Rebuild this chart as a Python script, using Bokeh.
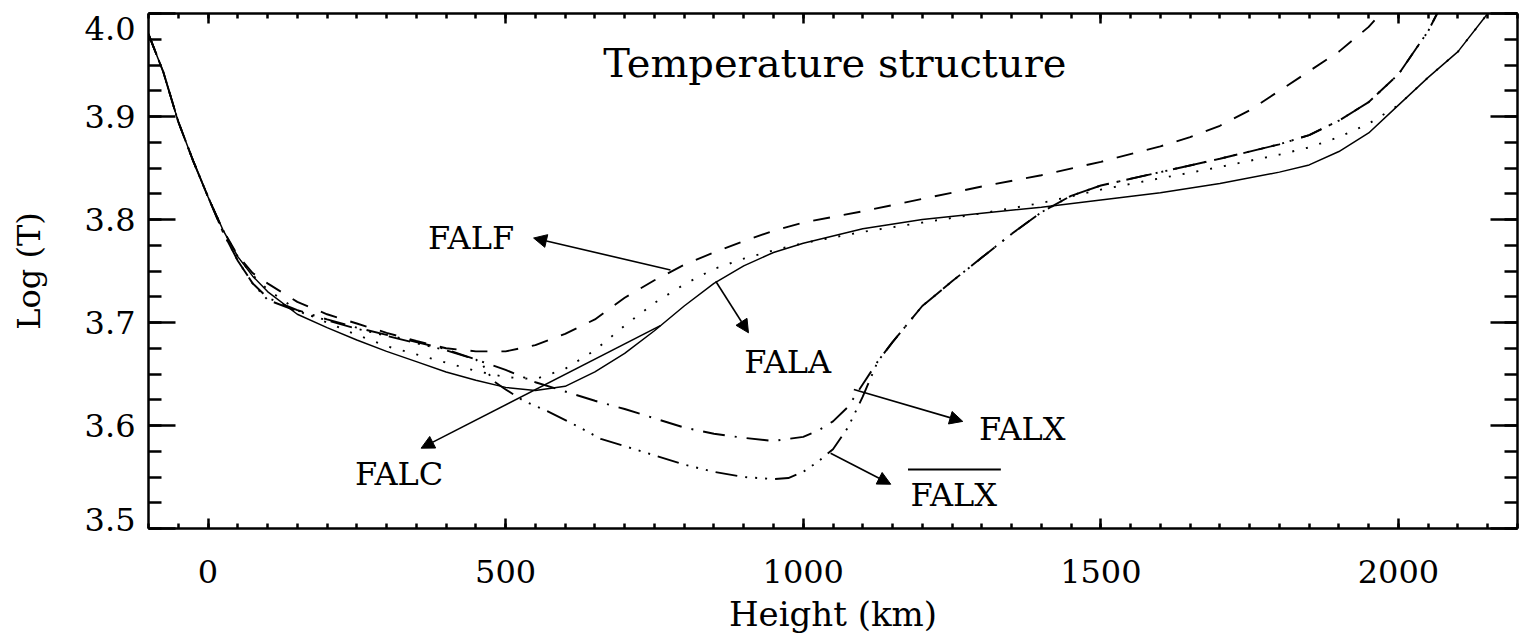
from bokeh.embed import file_html
from bokeh.models import (Arrow, CustomJSTickFormatter, FixedTicker, Label,
                          LinearAxis, NormalHead, Range1d)
from bokeh.plotting import figure
from bokeh.resources import INLINE

# ---- temperature stratification of the semi-empirical models ----
falc_h = [-100, -75, -50, -25, 0, 25, 50, 75, 100, 150, 200, 250, 300, 350, 400,
          450, 500, 550, 600, 650, 700, 750, 800, 850, 900, 950, 1000, 1100,
          1200, 1300, 1400, 1500, 1600, 1700, 1800, 1850, 1900, 1950, 2000,
          2050, 2100, 2150]
falc_logt = [3.980, 3.943, 3.895, 3.857, 3.822, 3.790, 3.764, 3.745, 3.730,
             3.708, 3.695, 3.683, 3.672, 3.662, 3.652, 3.644, 3.637, 3.634,
             3.638, 3.652, 3.670, 3.692, 3.716, 3.738, 3.755, 3.768, 3.777,
             3.791, 3.800, 3.806, 3.812, 3.819, 3.826, 3.835, 3.846, 3.853,
             3.866, 3.884, 3.911, 3.938, 3.963, 4.000]

fala_h = [-100, -75, -50, -25, 0, 25, 50, 75, 100, 150, 200, 250, 300, 350, 400,
          450, 500, 550, 600, 650, 700, 750, 800, 850, 900, 950, 1000, 1100,
          1200, 1300, 1400, 1500, 1600, 1700, 1800, 1850, 1900, 1950, 2000,
          2050, 2100, 2150]
fala_logt = [3.980, 3.943, 3.895, 3.857, 3.822, 3.790, 3.764, 3.746, 3.732,
             3.712, 3.700, 3.688, 3.677, 3.669, 3.661, 3.653, 3.647, 3.645,
             3.655, 3.673, 3.697, 3.719, 3.737, 3.752, 3.762, 3.770, 3.777,
             3.788, 3.797, 3.806, 3.816, 3.829, 3.840, 3.851, 3.863, 3.870,
             3.880, 3.893, 3.911, 3.938, 3.963, 4.000]

falf_h = [-100, -75, -50, -25, 0, 25, 50, 75, 100, 150, 200, 250, 300, 350, 400,
          450, 500, 550, 600, 650, 700, 750, 800, 850, 900, 950, 1000, 1100,
          1200, 1300, 1400, 1500, 1600, 1650, 1700, 1750, 1800, 1850, 1900,
          1950, 1970]
falf_logt = [3.980, 3.943, 3.895, 3.857, 3.822, 3.790, 3.765, 3.748, 3.738,
             3.720, 3.708, 3.699, 3.690, 3.682, 3.675, 3.672, 3.672, 3.678,
             3.689, 3.703, 3.724, 3.741, 3.756, 3.768, 3.779, 3.789, 3.797,
             3.808, 3.820, 3.832, 3.843, 3.856, 3.871, 3.880, 3.891, 3.906,
             3.925, 3.944, 3.963, 3.987, 4.000]

falx_h = [-100, -75, -50, -25, 0, 25, 50, 75, 100, 150, 200, 250, 300, 350, 400,
          450, 500, 550, 600, 650, 700, 750, 800, 850, 900, 950, 1000, 1025,
          1050, 1075, 1100, 1125, 1150, 1200, 1250, 1300, 1350, 1400, 1450,
          1500, 1600, 1700, 1800, 1850, 1900, 1950, 2000, 2050, 2065]
falx_logt = [3.980, 3.943, 3.895, 3.857, 3.822, 3.788, 3.760, 3.738, 3.724,
             3.712, 3.703, 3.695, 3.688, 3.681, 3.674, 3.664, 3.654, 3.642,
             3.633, 3.624, 3.616, 3.607, 3.598, 3.592, 3.588, 3.585, 3.589,
             3.595, 3.604, 3.618, 3.640, 3.662, 3.681, 3.716, 3.740, 3.763,
             3.786, 3.807, 3.823, 3.833, 3.846, 3.859, 3.873, 3.882, 3.896,
             3.914, 3.941, 3.983, 4.000]

falxbar_h = [-100, -75, -50, -25, 0, 25, 50, 75, 100, 150, 200, 250, 300, 350,
             400, 450, 460, 480, 500, 530, 570, 625, 660, 700, 750, 800, 850,
             900, 950, 975, 1000, 1025, 1050, 1075, 1100, 1125, 1150, 1200,
             1250, 1300, 1350, 1400, 1450, 1500, 1600, 1700, 1800, 1850, 1900,
             1950, 2000, 2050, 2065]
falxbar_logt = [3.980, 3.943, 3.895, 3.857, 3.822, 3.788, 3.760, 3.738, 3.722,
                3.711, 3.702, 3.694, 3.687, 3.680, 3.673, 3.664, 3.660, 3.643,
                3.635, 3.624, 3.614, 3.598, 3.587, 3.580, 3.571, 3.562, 3.555,
                3.550, 3.548, 3.549, 3.555, 3.565, 3.577, 3.598, 3.628, 3.662,
                3.681, 3.716, 3.740, 3.763, 3.786, 3.807, 3.823, 3.833, 3.846,
                3.859, 3.873, 3.882, 3.896, 3.914, 3.941, 3.983, 4.000]

x_major = [0, 500, 1000, 1500, 2000]
x_minor = list(range(-100, 2201, 50))
y_major = [3.5, 3.6, 3.7, 3.8, 3.9, 4.0]
y_minor = [round(3.5 + 0.025 * i, 3) for i in range(21)]

SERIF = "DejaVu Serif"
X_MIN, X_MAX = -100, 2200
Y_MIN, Y_MAX = 3.5, 4.0
FRAME_H = 515
LOGT_PER_PX = (Y_MAX - Y_MIN) / FRAME_H

p = figure(width=1530, height=643, x_range=Range1d(X_MIN, X_MAX),
           y_range=Range1d(Y_MIN, Y_MAX), output_backend="svg",
           toolbar_location=None, min_border_left=148, min_border_right=13,
           min_border_top=13, min_border_bottom=115)
p.grid.visible = False
p.outline_line_color = None
p.background_fill_color = "white"
p.border_fill_color = "white"

xt = FixedTicker(ticks=x_major, minor_ticks=x_minor)
yt = FixedTicker(ticks=y_major, minor_ticks=y_minor)

xb = p.xaxis[0]
yl = p.yaxis[0]
xtop = LinearAxis()
yr = LinearAxis()
p.add_layout(xtop, "above")
p.add_layout(yr, "right")

# y tick labels: the end values sit slightly inside the frame limits
y_label_pos = [Y_MIN + 9 * LOGT_PER_PX] + y_major[1:-1] + [Y_MAX - 15 * LOGT_PER_PX]
ylab_axis = LinearAxis(
    ticker=FixedTicker(ticks=y_label_pos, minor_ticks=[]),
    formatter=CustomJSTickFormatter(code="return (Math.round(tick * 10) / 10).toFixed(1)"),
)
p.add_layout(ylab_axis, "left")

for ax in (xb, xtop):
    ax.ticker = xt
    ax.major_tick_in = 10
    ax.major_tick_out = 0
    ax.minor_tick_in = 5
    ax.minor_tick_out = 0
for ax in (yl, yr):
    ax.ticker = yt
    ax.major_tick_in = 27
    ax.major_tick_out = 0
    ax.minor_tick_in = 13
    ax.minor_tick_out = 0
for ax in (xb, xtop, yl, yr):
    ax.axis_line_width = 2.5
    ax.major_tick_line_width = 2.5
    ax.minor_tick_line_width = 2.5
    ax.axis_line_color = "black"
    ax.major_tick_line_color = "black"
    ax.minor_tick_line_color = "black"
for ax in (xb, xtop, yl, yr, ylab_axis):
    ax.major_label_text_font = SERIF
    ax.major_label_text_color = "black"
    ax.axis_label_text_font = SERIF
    ax.axis_label_text_font_style = "normal"
    ax.axis_label_text_color = "black"

# tick-only axes
xtop.major_label_overrides = {t: "" for t in x_major}
yr.major_label_overrides = {t: "" for t in y_major}
yl.major_label_overrides = {t: "" for t in y_major}
for ax in (xtop, yr, yl):
    ax.major_label_text_font_size = "1px"
    ax.major_label_standoff = 0
    ax.axis_label_standoff = 0

# label-only axis on the left
ylab_axis.axis_line_color = None
ylab_axis.major_tick_line_color = None
ylab_axis.minor_tick_line_color = None
ylab_axis.major_tick_in = 0
ylab_axis.major_tick_out = 0
ylab_axis.minor_tick_in = 0
ylab_axis.minor_tick_out = 0
ylab_axis.major_label_text_font_size = "32px"
ylab_axis.major_label_standoff = 13
ylab_axis.major_label_orientation = "horizontal"
ylab_axis.axis_label = "Log (T)"
ylab_axis.axis_label_text_font_size = "32px"
ylab_axis.axis_label_standoff = 34

xb.major_label_text_font_size = "32px"
xb.major_label_standoff = 31
xb.axis_label = "Height (km)"
xb.axis_label_text_font_size = "34px"
xb.axis_label_standoff = 8

# curves
p.line(falc_h, falc_logt, line_color="black", line_width=1.5)
p.line(fala_h, fala_logt, line_color="black", line_width=1.9,
       line_dash="2 12")
p.line(falf_h, falf_logt, line_color="black", line_width=1.9,
       line_dash="17 14")
p.line(falx_h, falx_logt, line_color="black", line_width=1.9,
       line_dash="22 10 2 10")
p.line(falxbar_h, falxbar_logt, line_color="black", line_width=1.9,
       line_dash="22 8 2 8 2 8 2 8")

# title inside the frame
p.add_layout(Label(x=1053, y=3.952, text="Temperature structure",
                   text_font=SERIF, text_font_size="40px", text_color="black",
                   text_align="center", text_baseline="middle"))

# model labels and pointers
lab_kw = dict(text_font=SERIF, text_font_size="32px", text_color="black",
              text_align="center", text_baseline="middle")
p.add_layout(Label(x=442, y=3.782, text="FALF", **lab_kw))
p.add_layout(Label(x=974, y=3.662, text="FALA", **lab_kw))
p.add_layout(Label(x=1368, y=3.597, text="FALX", **lab_kw))
p.add_layout(Label(x=1253, y=3.533, text="FALX", **lab_kw))
p.add_layout(Label(x=321, y=3.553, text="FALC", **lab_kw))
p.segment(x0=[1176], y0=[3.5574], x1=[1332], y1=[3.5574],
          line_color="black", line_width=2)

arrows = [
    (777, 3.751, 547, 3.782),    # FALF
    (853, 3.740, 908, 3.690),    # FALA
    (1085, 3.635, 1268, 3.604),  # FALX
    (1046, 3.573, 1147, 3.543),  # FALX bar
    (760, 3.697, 358, 3.578),    # FALC
]
for xs, ys, xe, ye in arrows:
    p.add_layout(Arrow(x_start=xs, y_start=ys, x_end=xe, y_end=ye,
                       line_color="black", line_width=1.6,
                       end=NormalHead(size=13, fill_color="black",
                                      line_color="black", line_width=1)))

open("out.html", "w").write(file_html(p, INLINE))
